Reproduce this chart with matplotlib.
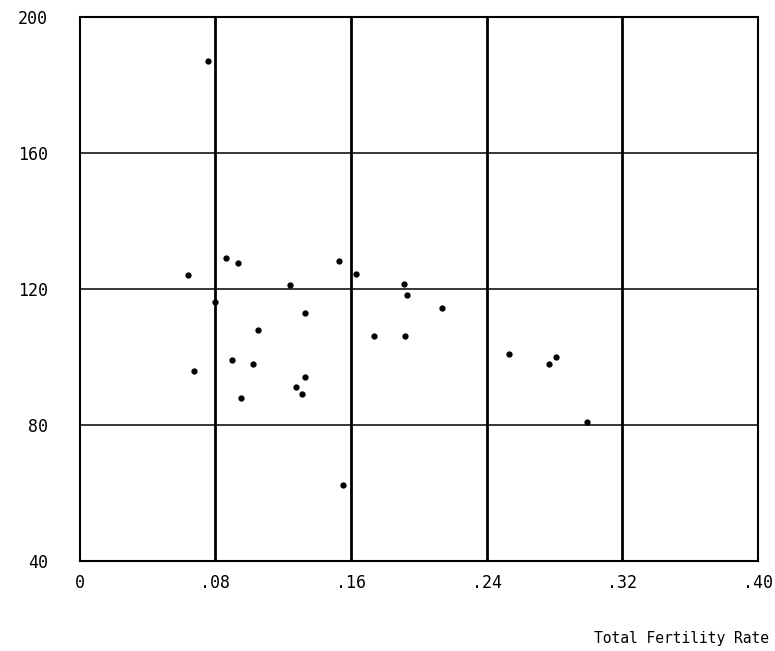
import matplotlib

matplotlib.use("Agg")
import matplotlib.pyplot as plt  # noqa: E402

# Datos
tasa_fecundidad = [0.0755, 0.0640, 0.0863, 0.0932, 0.0800, 0.0675, 0.0899,
                   0.1022, 0.1053, 0.0951, 0.1239, 0.1327, 0.1273, 0.1308,
                   0.1331, 0.1529, 0.1629, 0.1551, 0.1915, 0.1929, 0.1734,
                   0.1919, 0.2139, 0.2529, 0.2768, 0.2809, 0.2990]
valor_y = [187.1, 124.1, 129.2, 127.6, 116.2, 96.0, 99.1,
           98.0, 108.0, 87.9, 121.1, 113.0, 91.1, 89.0,
           94.1, 128.3, 124.3, 62.4, 121.5, 118.2, 106.2,
           106.3, 114.3, 100.8, 97.9, 99.9, 80.9]

x_ticks = [0, 0.08, 0.16, 0.24, 0.32, 0.40]
x_labels = ["0", ".08", ".16", ".24", ".32", ".40"]
y_ticks = [40, 80, 120, 160, 200]
y_labels = ["40", "80", "120", "160", "200"]

plt.rcParams["font.family"] = ["DejaVu Sans Mono"]

fig = plt.figure(figsize=(7.75, 6.51), dpi=100)
ax = fig.add_axes([0.103, 0.138, 0.875, 0.836])

for xv in x_ticks[1:-1]:
    ax.axvline(xv, color="black", linewidth=2.0, zorder=1)
for yv in y_ticks[1:-1]:
    ax.axhline(yv, color="black", linewidth=1.1, zorder=1)

ax.plot(tasa_fecundidad, valor_y, "o", color="black", markersize=3.5, zorder=3)

ax.set_xlim(0, 0.40)
ax.set_ylim(40, 200)
ax.set_xticks(x_ticks)
ax.set_xticklabels(x_labels)
ax.set_yticks(y_ticks)
ax.set_yticklabels(y_labels)
ax.tick_params(length=0, labelsize=12)
ax.tick_params(axis="x", pad=9)
ax.tick_params(axis="y", pad=23)
for s in ax.spines.values():
    s.set_linewidth(1.5)

fig.text(0.992, 0.008, "Total Fertility Rate", ha="right", va="bottom", fontsize=10.5)

fig.savefig("out.png", dpi=100)
